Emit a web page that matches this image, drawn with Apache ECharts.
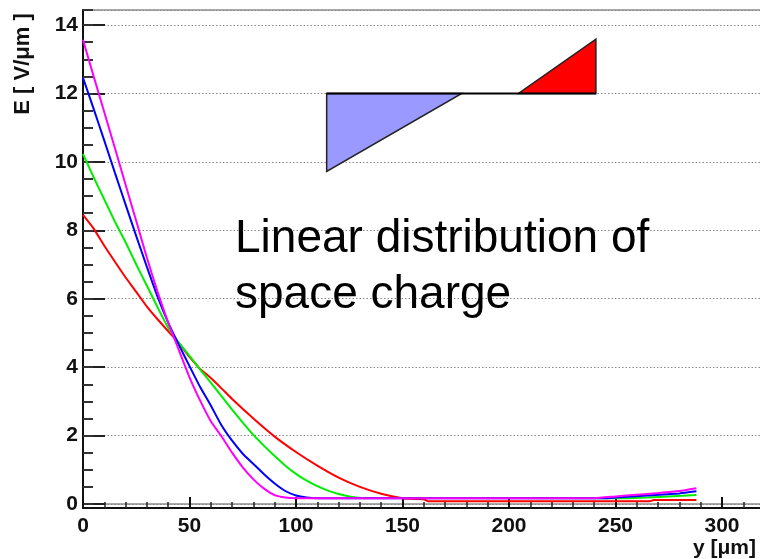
<!DOCTYPE html>
<html>
<head>
<meta charset="utf-8">
<script src="https://cdn.jsdelivr.net/npm/echarts@6/dist/echarts.min.js"></script>
<style>html,body{margin:0;padding:0;background:#fff}#c{width:760px;height:559px}</style>
</head>
<body>
<div id="c"></div>
<script>
// ---- data (x in µm, E in V/µm) ----
const redPts = [[0,8.45],[5,8.05],[10,7.55],[15,7.08],[20,6.62],[25,6.2],[30,5.77],[35,5.4],[40,5.05],[45,4.7],[50,4.3],[55,3.95],[60,3.68],[65,3.38],[70,3.07],[80,2.5],[90,1.97],[100,1.52],[110,1.12],[120,0.77],[130,0.5],[140,0.3],[150,0.17],[155,0.15],[160,0.14],[162,0.08],[266,0.08],[268,0.12],[288,0.12]];
const greenPts = [[0,10.23],[5,9.55],[10,8.9],[15,8.25],[20,7.65],[25,7.0],[30,6.38],[35,5.75],[40,5.15],[45,4.72],[50,4.33],[55,3.93],[60,3.55],[65,3.15],[70,2.76],[75,2.38],[80,2.02],[85,1.7],[90,1.4],[95,1.12],[100,0.88],[105,0.68],[110,0.52],[115,0.39],[120,0.29],[125,0.22],[130,0.18],[255,0.17],[265,0.19],[275,0.22],[288,0.26]];
const bluePts = [[0,12.46],[5,11.55],[10,10.62],[15,9.68],[20,8.75],[25,7.83],[30,6.93],[35,6.06],[40,5.3],[45,4.65],[50,4.03],[55,3.42],[60,2.88],[65,2.3],[70,1.85],[75,1.47],[80,1.17],[85,0.87],[90,0.6],[95,0.38],[100,0.25],[105,0.19],[110,0.17],[245,0.17],[250,0.19],[265,0.25],[280,0.31],[288,0.37]];
const magentaPts = [[0,13.57],[5,12.5],[10,11.45],[15,10.4],[20,9.33],[25,8.27],[30,7.2],[35,6.2],[40,5.3],[45,4.5],[50,3.7],[55,3.02],[60,2.42],[65,1.98],[70,1.5],[75,1.07],[80,0.72],[85,0.45],[90,0.26],[95,0.19],[100,0.17],[240,0.17],[250,0.22],[260,0.27],[270,0.32],[280,0.38],[288,0.46]];
// inset sketch of the charge distribution (data units)
const insetNeg = [[114.4,12],[177.8,12],[114.4,9.72]];
const insetPos = [[204.4,12],[240.8,12],[240.8,13.59]];
const insetBase = [[114.4,12],[240.8,12]];
const xTicks = [0,50,100,150,200,250,300];
const yTicks = [0,2,4,6,8,10,12,14];

const FONT = "'Liberation Sans', Arial, Helvetica, sans-serif";
const chart = echarts.init(document.getElementById('c'), null, {renderer:'canvas'});

function line(name, pts, color){
  return {name, type:'line', data:pts, showSymbol:false, smooth:0.15,
    lineStyle:{color, width:2}, itemStyle:{color}, z:3, animation:false};
}

chart.setOption({
  animation:false,
  backgroundColor:'#fff',
  grid:{left:83, top:10, width:681.6, height:494, containLabel:false, outerBoundsMode:'none',
        show:true, borderColor:'#aaa', borderWidth:2, backgroundColor:'transparent'},
  xAxis:{type:'value', min:0, max:320, interval:50, offset:4,
    axisLine:{show:true, onZero:false, lineStyle:{color:'#111', width:2}},
    axisTick:{show:true, inside:true, length:11, lineStyle:{color:'#111', width:2}},
    minorTick:{show:true, splitNumber:5, length:6, lineStyle:{color:'#222', width:1.5}},
    axisLabel:{show:true, margin:8, fontSize:21, fontWeight:'bold', color:'#111', fontFamily:FONT,
      showMaxLabel:false, formatter:v=> xTicks.includes(v)? String(v):''},
    splitLine:{show:false}},
  yAxis:[{type:'value', min:0, max:14.44, interval:2,
    axisLine:{show:true, lineStyle:{color:'#111', width:2}},
    axisTick:{show:true, inside:true, length:22, lineStyle:{color:'#222', width:2}},
    axisLabel:{show:true, margin:5, fontSize:21, fontWeight:'bold', color:'#111', fontFamily:FONT,
      showMaxLabel:false, formatter:v=> yTicks.includes(v)? String(v):''},
    splitLine:{show:true, lineStyle:{color:'#888', width:1, type:[1.5,2]}}},
   {type:'value', min:0, max:14.44, interval:0.5, position:'left',
    axisLine:{show:false}, axisLabel:{show:false}, splitLine:{show:false},
    axisTick:{show:true, inside:true, length:10, lineStyle:{color:'#333', width:2}}}],
  series:[
    line('red', redPts, '#ff0000'),
    line('green', greenPts, '#00ee00'),
    line('blue', bluePts, '#0000ff'),
    line('magenta', magentaPts, '#ff00ff'),
    {type:'custom', data:[0], z:2, animation:false, silent:true,
     renderItem:function(params, api){
       const pts = a => a.map(p=>api.coord(p));
       return {type:'group', children:[
         {type:'polygon', shape:{points:pts(insetNeg)}, style:{fill:'#9999ff', stroke:'#222', lineWidth:1.5}},
         {type:'polygon', shape:{points:pts(insetPos)}, style:{fill:'#ff0000', stroke:'#222', lineWidth:1.5}},
         {type:'polyline', shape:{points:pts(insetBase)}, style:{stroke:'#000', lineWidth:2, fill:null}}
       ]};
     }}
  ],
  graphic:[
    {type:'rect', shape:{x:82, y:503, width:2, height:6}, style:{fill:'#111'}, z:10},
    {type:'text', x:235, y:267, z:10, style:{text:'Linear distribution of\nspace charge', font:'46px '+FONT,
      fill:'#000', align:'left', verticalAlign:'middle', lineHeight:56}},
    {type:'text', x:23, y:64, rotation:Math.PI/2, z:10, style:{text:'E [ V/\u03bcm ]', font:'bold 22px '+FONT,
      fill:'#111', align:'center', verticalAlign:'middle'}},
    {type:'text', x:756, y:548, z:10, style:{text:'y [\u03bcm]', font:'bold 21px '+FONT,
      fill:'#111', align:'right', verticalAlign:'middle'}}
  ]
});
</script>
</body>
</html>
